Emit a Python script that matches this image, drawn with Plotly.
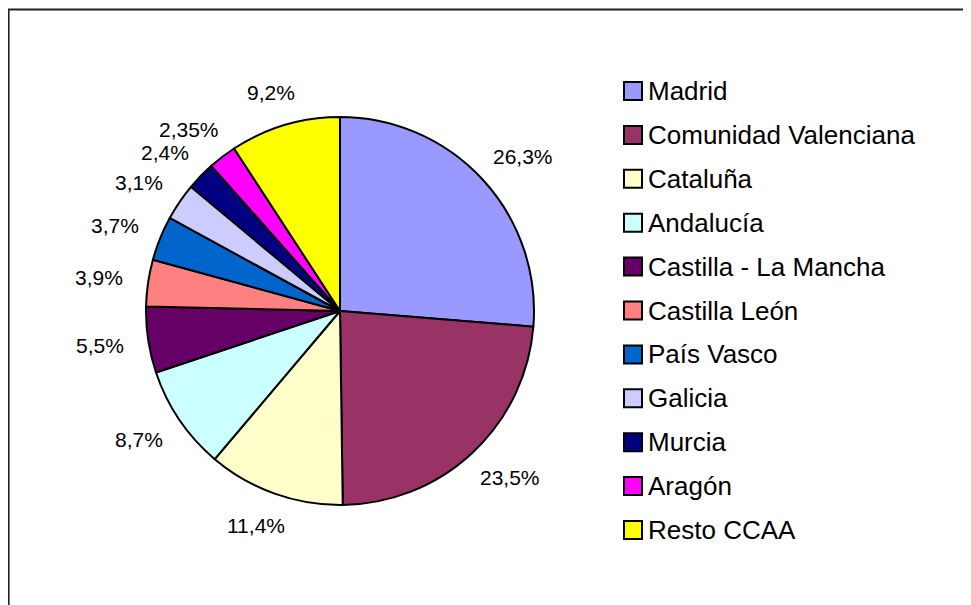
import math
import plotly.graph_objects as go

# ---- data ----
regions = ["Madrid", "Comunidad Valenciana", "Cataluña", "Andalucía",
           "Castilla - La Mancha", "Castilla León", "País Vasco", "Galicia",
           "Murcia", "Aragón", "Resto CCAA"]
shares = [26.3, 23.5, 11.4, 8.7, 5.5, 3.9, 3.7, 3.1, 2.4, 2.35, 9.2]
share_labels = ["26,3%", "23,5%", "11,4%", "8,7%", "5,5%", "3,9%", "3,7%",
                "3,1%", "2,4%", "2,35%", "9,2%"]
colors = ["#9999FF", "#993366", "#FFFFCC", "#CCFFFF", "#660066", "#FF8080",
          "#0066CC", "#CCCCFF", "#000080", "#FF00FF", "#FFFF00"]

W, H = 971, 605
OFF = 8  # page body margin
FONT = "Liberation Sans, Arial, sans-serif"
LABEL_SIZE = 21


def px(x):
    return (x - OFF) / W


def py(y):
    return 1 - (y - OFF) / H


# pie geometry in page pixels
CX, CY, R = 340, 311, 194

fig = go.Figure()
fig.add_trace(go.Pie(
    labels=regions,
    values=shares,
    textinfo="none",
    sort=False,
    direction="clockwise",
    rotation=0,
    marker=dict(colors=colors, line=dict(color="black", width=2)),
    domain=dict(x=[px(CX - R), px(CX + R)], y=[py(CY + R), py(CY - R)]),
    showlegend=False,
    hovertext=share_labels,
    hoverinfo="label+text",
))

# approximate Arial advance widths (em) for label sizing
ADV = {c: 0.556 for c in "0123456789"}
ADV.update({",": 0.278, "%": 0.889})

shapes = []
annotations = []

# data labels placed outside each slice, at its mid angle
total = sum(shares)
cum = 0.0
for val, lab in zip(shares, share_labels):
    mid = (cum + val / 2) / total * 2 * math.pi
    cum += val
    s, c = math.sin(mid), -math.cos(mid)
    w = sum(ADV.get(ch, 0.556) for ch in lab) * LABEL_SIZE
    hw, hh = w / 2, 9
    ra = R * 1.13
    x = CX + ra * s + hw * s
    y = CY + ra * c + hh * c
    annotations.append(dict(xref="paper", yref="paper", x=px(x), y=py(y),
                            xanchor="center", yanchor="middle", showarrow=False,
                            text=lab,
                            font=dict(family=FONT, size=LABEL_SIZE, color="black")))

# outer frame
shapes.append(dict(type="rect", xref="paper", yref="paper",
                   x0=px(8.6), x1=px(W + 30), y0=py(H + 30), y1=py(9.5),
                   line=dict(color="#222222", width=2), fillcolor="rgba(0,0,0,0)",
                   layer="above"))

# legend (built from the data arrays)
row0, step = 91, 43.9
for i, (name, col) in enumerate(zip(regions, colors)):
    yc = row0 + i * step
    shapes.append(dict(type="rect", xref="paper", yref="paper",
                       x0=px(624), x1=px(642), y0=py(yc + 9), y1=py(yc - 9),
                       line=dict(color="black", width=2), fillcolor=col))
    annotations.append(dict(xref="paper", yref="paper", x=px(646), y=py(yc),
                            xanchor="left", yanchor="middle", showarrow=False,
                            text=name, font=dict(family=FONT, size=26, color="black")))

fig.update_layout(
    width=W, height=H,
    margin=dict(l=0, r=0, t=0, b=0),
    paper_bgcolor="white",
    plot_bgcolor="white",
    shapes=shapes,
    annotations=annotations,
)

fig.write_html("out.html")
